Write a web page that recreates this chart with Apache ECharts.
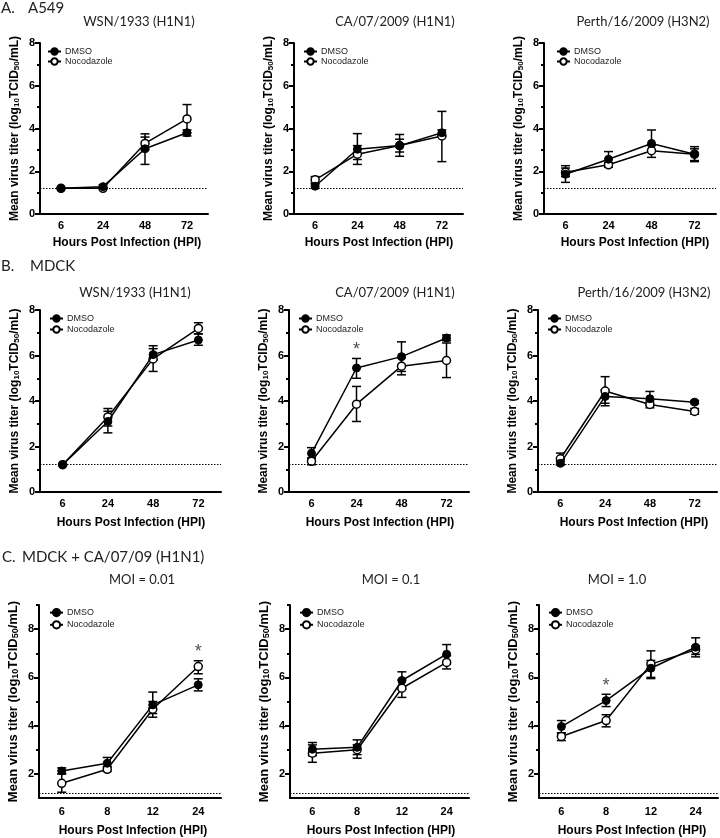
<!DOCTYPE html>
<html><head><meta charset="utf-8">
<script src="https://cdn.jsdelivr.net/npm/echarts@6/dist/echarts.min.js"></script>
<style>html,body{margin:0;padding:0;background:#fff}#c{width:720px;height:838px}</style>
</head><body><div id="c"></div>
<script>
// ---------- categories ----------
const hpiAB = ['6', '24', '48', '72'];
const hpiC = ['6', '8', '12', '24'];
const LOD = 1.2;

// ---------- A549 ----------
const a1Dmso = [1.2, 1.28, 3.05, 3.8];   const a1DmsoLo = [1.2, 1.2, 2.32, 3.65]; const a1DmsoHi = [1.2, 1.36, 3.75, 3.93];
const a1Noc  = [1.2, 1.2, 3.3, 4.45];    const a1NocLo  = [1.2, 1.2, 3.0, 3.8];   const a1NocHi  = [1.2, 1.2, 3.6, 5.12];

const a2Dmso = [1.3, 3.03, 3.2, 3.8];    const a2DmsoLo = [1.2, 2.55, 2.7, 3.65]; const a2DmsoHi = [1.4, 3.76, 3.72, 3.93];
const a2Noc  = [1.6, 2.8, 3.2, 3.65];    const a2NocLo  = [1.45, 2.32, 2.9, 2.45]; const a2NocHi = [1.75, 3.2, 3.5, 4.8];

const a3Dmso = [1.86, 2.56, 3.3, 2.8];   const a3DmsoLo = [1.48, 2.2, 3.0, 2.45]; const a3DmsoHi = [2.26, 2.92, 3.93, 3.15];
const a3Noc  = [1.95, 2.3, 2.96, 2.8];   const a3NocLo  = [1.75, 2.2, 2.65, 2.5]; const a3NocHi  = [2.15, 2.4, 3.2, 3.05];

// ---------- MDCK ----------
const b1Dmso = [1.2, 3.1, 6.04, 6.68];   const b1DmsoLo = [1.2, 2.6, 5.8, 6.45];  const b1DmsoHi = [1.2, 3.55, 6.3, 6.95];
const b1Noc  = [1.2, 3.3, 5.85, 7.19];   const b1NocLo  = [1.2, 2.9, 5.3, 6.95];  const b1NocHi  = [1.2, 3.67, 6.43, 7.44];

const b2Dmso = [1.7, 5.45, 5.95, 6.77];  const b2DmsoLo = [1.45, 5.0, 5.3, 6.65]; const b2DmsoHi = [1.95, 5.87, 6.6, 6.9];
const b2Noc  = [1.35, 3.86, 5.53, 5.78]; const b2NocLo  = [1.2, 3.1, 5.15, 5.03]; const b2NocHi  = [1.5, 4.64, 5.9, 6.55];
const b2Star = [['24', 6.4]];

const b3Dmso = [1.26, 4.2, 4.1, 3.95];   const b3DmsoLo = [1.2, 3.9, 3.8, 3.88];  const b3DmsoHi = [1.35, 4.5, 4.42, 4.02];
const b3Noc  = [1.46, 4.44, 3.85, 3.54]; const b3NocLo  = [1.2, 3.79, 3.7, 3.42]; const b3NocHi  = [1.71, 5.07, 4.0, 3.67];

// ---------- MDCK + CA/07/09 ----------
const c1Dmso = [2.12, 2.44, 4.86, 5.69]; const c1DmsoLo = [2.0, 2.3, 4.5, 5.44];  const c1DmsoHi = [2.25, 2.68, 5.39, 5.94];
const c1Noc  = [1.61, 2.19, 4.68, 6.45]; const c1NocLo  = [1.24, 2.1, 4.35, 6.15]; const c1NocHi = [2.0, 2.3, 5.0, 6.69];
const c1Star = [['24', 7.2]];

const c2Dmso = [3.02, 3.1, 5.87, 6.96];  const c2DmsoLo = [2.75, 2.8, 5.5, 6.55]; const c2DmsoHi = [3.3, 3.41, 6.23, 7.36];
const c2Noc  = [2.86, 3.0, 5.55, 6.62];  const c2NocLo  = [2.48, 2.65, 5.17, 6.35]; const c2NocHi = [3.2, 3.2, 5.9, 6.9];

const c3Dmso = [3.96, 5.04, 6.38, 7.25]; const c3DmsoLo = [3.7, 4.79, 5.95, 6.85]; const c3DmsoHi = [4.21, 5.3, 6.7, 7.64];
const c3Noc  = [3.55, 4.21, 6.55, 7.14]; const c3NocLo  = [3.38, 3.95, 6.0, 6.95]; const c3NocHi  = [3.7, 4.45, 7.1, 7.3];
const c3Star = [['8', 5.79]];

// y-axis tick labels
const yTicksC = [2, 4, 6, 8];
const yMinorC = [3, 5, 7, 9];

const xName = 'Hours Post Infection (HPI)';

// ---------- layout ----------
const panels = [
  {g:[40,43,168,171], cats:hpiAB, d:[a1Dmso,a1DmsoLo,a1DmsoHi], n:[a1Noc,a1NocLo,a1NocHi], lg:[47,47,1,8], yc:false, t:'WSN/1933 (H1N1)', tx:139, ty:22, nameSize:12, xn:[127,243], lm:6},
  {g:[294,43,169,171], cats:hpiAB, d:[a2Dmso,a2DmsoLo,a2DmsoHi], n:[a2Noc,a2NocLo,a2NocHi], lg:[303,47,1,8], yc:false, t:'CA/07/2009 (H1N1)', tx:395, ty:22, nameSize:12, xn:[379,243], lm:6},
  {g:[544,43,172,171], cats:hpiAB, d:[a3Dmso,a3DmsoLo,a3DmsoHi], n:[a3Noc,a3NocLo,a3NocHi], lg:[556,47,1,8], yc:false, t:'Perth/16/2009 (H3N2)', tx:643, ty:22, nameSize:12, xn:[635,243], lm:6},
  {g:[40,310,181,182], cats:hpiAB, d:[b1Dmso,b1DmsoLo,b1DmsoHi], n:[b1Noc,b1NocLo,b1NocHi], lg:[49,314,2,8], yc:false, t:'WSN/1933 (H1N1)', tx:135, ty:293, nameSize:12, xn:[131,523], lm:6},
  {g:[289,310,180,182], cats:hpiAB, d:[b2Dmso,b2DmsoLo,b2DmsoHi], n:[b2Noc,b2NocLo,b2NocHi], lg:[298,314,2,8], yc:false, t:'CA/07/2009 (H1N1)', tx:395, ty:293, star:b2Star, nameSize:12, xn:[380,523], lm:6},
  {g:[538,310,179,182], cats:hpiAB, d:[b3Dmso,b3DmsoLo,b3DmsoHi], n:[b3Noc,b3NocLo,b3NocHi], lg:[547,314,2,8], yc:false, t:'Perth/16/2009 (H3N2)', tx:644, ty:293, nameSize:12, xn:[634,523], lm:6},
  {g:[39,605,182,193], cats:hpiC, d:[c1Dmso,c1DmsoLo,c1DmsoHi], n:[c1Noc,c1NocLo,c1NocHi], lg:[49,608,3,9], yc:true, t:'MOI = 0.01', tx:142, ty:580, star:c1Star, nameSize:13, xn:[133,831], lm:8},
  {g:[290,605,179,193], cats:hpiC, d:[c2Dmso,c2DmsoLo,c2DmsoHi], n:[c2Noc,c2NocLo,c2NocHi], lg:[299,608,3,9], yc:true, t:'MOI = 0.1', tx:391, ty:580, nameSize:13, xn:[381,831], lm:8},
  {g:[539,605,179,193], cats:hpiC, d:[c3Dmso,c3DmsoLo,c3DmsoHi], n:[c3Noc,c3NocLo,c3NocHi], lg:[548,608,3,9], yc:true, t:'MOI = 1.0', tx:617, ty:580, star:c3Star, nameSize:13, xn:[632,831], lm:8}
];

const FF = '"Liberation Sans", Arial, sans-serif';
const TF = 'Lato, "Open Sans", sans-serif';
const BLACK = '#000';

const grids = [], xAxes = [], yAxes = [], series = [], legends = [], graphics = [];

function errRender(params, api) {
  const x = api.value(0), lo = api.value(1), hi = api.value(2);
  const p1 = api.coord([x, lo]), p2 = api.coord([x, hi]);
  const w = 4.5;
  const st = {stroke: BLACK, lineWidth: 1.5};
  return {type: 'group', children: [
    {type: 'line', shape: {x1: p1[0], y1: p1[1], x2: p2[0], y2: p2[1]}, style: st},
    {type: 'line', shape: {x1: p1[0] - w, y1: p1[1], x2: p1[0] + w, y2: p1[1]}, style: st},
    {type: 'line', shape: {x1: p2[0] - w, y1: p2[1], x2: p2[0] + w, y2: p2[1]}, style: st}
  ]};
}

panels.forEach((p, i) => {
  grids.push({left: p.g[0], top: p.g[1], width: p.g[2], height: p.g[3], containLabel: false, outerBoundsMode: 'none'});
  xAxes.push({
    type: 'category', gridIndex: i, data: p.cats, boundaryGap: true,
    axisLine: {lineStyle: {color: BLACK, width: 2}},
    axisTick: {show: false},
    axisLabel: {color: BLACK, fontFamily: FF, fontWeight: 'bold', fontSize: 11, margin: p.lm},
    splitLine: {show: false}
  });
  const yName = 'Mean virus titer (log{s|10}TCID{s|50}/mL)';
  const nameStyle = {color: BLACK, fontFamily: FF, fontWeight: 'bold', fontSize: p.nameSize,
    rich: {s: {fontSize: p.nameSize - 4, fontWeight: 'bold', fontFamily: FF, color: BLACK, verticalAlign: 'bottom', padding: [4, 0, 0, 0]}}};
  const yMain = yAxes.length;
  if (!p.yc) {
    yAxes.push({
      type: 'value', gridIndex: i, min: 0, max: 8, interval: 2,
      axisLine: {show: true, lineStyle: {color: BLACK, width: 2}},
      axisTick: {show: true, length: 5, lineStyle: {color: BLACK, width: 2}},
      minorTick: {show: true, splitNumber: 2, length: 3, lineStyle: {color: BLACK, width: 2}},
      axisLabel: {color: BLACK, fontFamily: FF, fontWeight: 'bold', fontSize: 11, margin: 5},
      splitLine: {show: false}, minorSplitLine: {show: false},
      name: yName, nameLocation: 'middle', nameRotate: 90, nameGap: 19, nameTextStyle: nameStyle
    });
  } else {
    yAxes.push({
      type: 'value', gridIndex: i, min: 1, max: 9,
      axisLine: {show: true, lineStyle: {color: BLACK, width: 2}},
      axisTick: {show: true, length: 5, customValues: yTicksC, lineStyle: {color: BLACK, width: 2}},
      axisLabel: {color: BLACK, fontFamily: FF, fontWeight: 'bold', fontSize: 11, margin: 5, customValues: yTicksC},
      splitLine: {show: false},
      name: yName, nameLocation: 'middle', nameRotate: 90, nameGap: 19, nameTextStyle: nameStyle
    });
    yAxes.push({
      type: 'value', gridIndex: i, min: 1, max: 9, position: 'left',
      axisLine: {show: false},
      axisTick: {show: true, length: 3, customValues: yMinorC, lineStyle: {color: BLACK, width: 2}},
      axisLabel: {show: false},
      splitLine: {show: false}
    });
  }
  const lineBase = {type: 'line', xAxisIndex: i, yAxisIndex: yMain, symbol: 'circle', symbolSize: 8,
    lineStyle: {color: BLACK, width: 1.5}, emphasis: {disabled: true}, animation: false};
  series.push(Object.assign({}, lineBase, {
    name: 'Nocodazole', data: p.n[0], z: 4,
    itemStyle: {color: '#fff', borderColor: BLACK, borderWidth: 1.5}
  }));
  series.push(Object.assign({}, lineBase, {
    name: 'DMSO', data: p.d[0], z: 5,
    itemStyle: {color: BLACK, borderColor: BLACK, borderWidth: 1},
    markLine: {silent: true, symbol: 'none', animation: false, label: {show: false},
      lineStyle: {type: [1.5, 1.5], color: BLACK, width: 1}, data: [{yAxis: LOD}]}
  }));
  [p.d, p.n].forEach((arr, k) => {
    series.push({
      type: 'custom', name: (k ? 'nocErr' : 'dmsoErr') + i, xAxisIndex: i, yAxisIndex: yMain, z: 3,
      renderItem: errRender, animation: false, silent: true,
      encode: {x: 0, y: [1, 2]},
      data: arr[1].map((lo, j) => [j, lo, arr[2][j]])
    });
  });
  if (p.star) {
    series.push({
      type: 'scatter', xAxisIndex: i, yAxisIndex: yMain, symbolSize: 1, itemStyle: {color: 'rgba(0,0,0,0)'},
      data: p.star, silent: true, animation: false,
      label: {show: true, position: 'inside', formatter: '*', color: '#222', fontFamily: FF, fontSize: 18, offset: [0, 4]}
    });
  }
  legends.push({
    data: ['DMSO', 'Nocodazole'], orient: 'vertical', left: p.lg[0], top: p.lg[1],
    itemWidth: 13, itemHeight: p.lg[3], itemGap: p.lg[2], padding: 0, selectedMode: false,
    textStyle: {fontFamily: FF, fontSize: 9, color: '#222', padding: [0, 0, 0, -1]}
  });
  graphics.push({type: 'text', x: p.tx, y: p.ty, style: {text: p.t, font: '13px ' + TF, fill: '#222', textAlign: 'center', textVerticalAlign: 'middle'}});
  graphics.push({type: 'text', x: p.xn[0], y: p.xn[1], style: {text: xName, font: 'bold 12px ' + FF, fill: BLACK, textAlign: 'center', textVerticalAlign: 'middle'}});
});

// panel letters
const labels = [
  ['A.', 1, 8], ['A549', 28, 8],
  ['B.', 1, 266], ['MDCK', 30, 266],
  ['C.', 2, 557], ['MDCK + CA/07/09 (H1N1)', 22, 557]
];
labels.forEach(l => graphics.push({type: 'text', x: l[1], y: l[2],
  style: {text: l[0], font: '15px ' + TF, fill: '#222', textAlign: 'left', textVerticalAlign: 'middle'}}));

const chart = echarts.init(document.getElementById('c'), null, {renderer: 'canvas'});
chart.setOption({
  animation: false, backgroundColor: '#fff',
  grid: grids, xAxis: xAxes, yAxis: yAxes, series: series, legend: legends, graphic: graphics
});
</script></body></html>
